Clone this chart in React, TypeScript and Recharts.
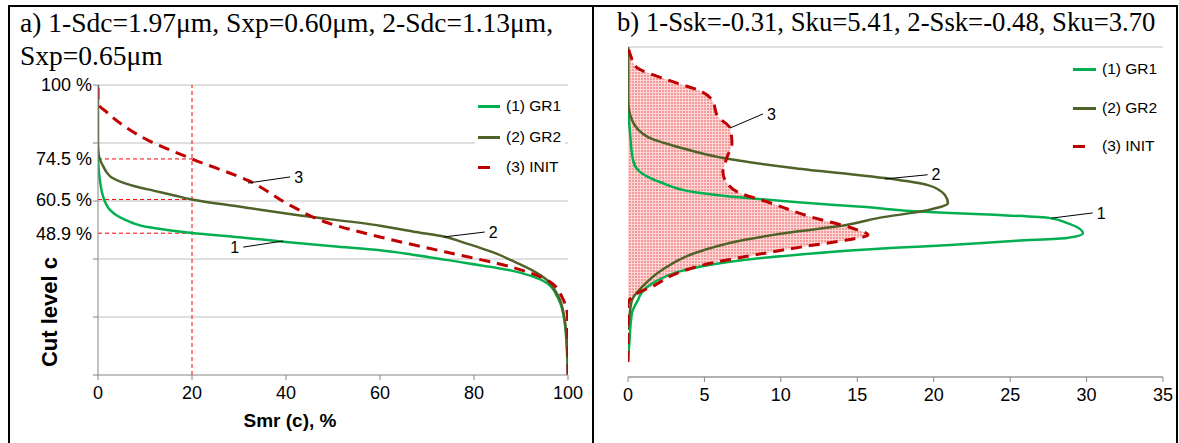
import React from 'react';
import {
  ComposedChart,
  Line,
  Area,
  XAxis,
  YAxis,
  CartesianGrid,
  ReferenceLine,
  ReferenceDot,
  Legend,
} from 'recharts';

// ---------- colours ----------
const C_GR1 = '#00b050';
const C_GR2 = '#4f6228';
const C_INIT = '#c00000';
const C_HELP = '#ff0000';
const C_GRID = '#c0c0c0';
const C_AXIS = '#868686';

// ---------- panel a) Abbott curves ----------
const smrTicks = [0, 20, 40, 60, 80, 100];
const cutGrid = [0, 20, 40, 60, 80, 100];
const cutLabelVals = [100, 74.5, 60.5, 48.9];
const cutLabels = ['100 %', '74.5 %', '60.5 %', '48.9 %'];
const leftYTicks = [0, 20, 40, 48.9, 60, 60.5, 74.5, 80, 100];
const helperSmr = 20;

const gr1Cut = [0, 10, 18, 25, 27, 31.7, 36, 39.7, 41.5, 43, 44.4, 45.9, 47.5, 49, 50, 51, 52.4, 53.5, 55, 57, 59, 62, 66, 70, 75];
const gr1Smr = [100, 99.7, 99.3, 98.3, 97.7, 95.5, 88, 74, 67, 60, 50, 40, 30, 20, 14.7, 10.5, 7.4, 5.8, 4, 2.5, 1.7, 1.0, 0.5, 0.2, 0];

const gr2Cut = [0, 10, 20, 25.9, 29, 32.8, 36, 39.5, 42, 44, 45.8, 47.6, 49.5, 51.5, 55, 57.6, 60.5, 62, 63.5, 65, 66.5, 68, 70, 72, 74, 76, 80, 100];
const gr2Smr = [100, 99.8, 99.2, 98.3, 97.3, 95.5, 92.5, 88, 84.5, 81, 77.5, 74, 67, 60, 43, 32, 20, 16, 12, 8, 5, 3, 1.8, 1.1, 0.5, 0.15, 0, 0];

const initCut = [0, 10, 20, 27, 32.8, 37.2, 42.4, 47.6, 52.4, 58.6, 67, 74.5, 81, 90.3, 93.8, 100];
const initSmr = [100, 100, 99.9, 98.7, 95.5, 88, 74, 60, 49, 40.8, 32, 20, 10.6, 2.1, 0, 0];

const leftNotes = [
  { label: '1', x1: 30.9, y1: 44.1, x2: 39.4, y2: 46.2, side: 'left' },
  { label: '3', x1: 31.9, y1: 66.2, x2: 40.9, y2: 68.3, side: 'right' },
  { label: '2', x1: 73.6, y1: 47.6, x2: 82.3, y2: 49.3, side: 'right' },
];

// ---------- panel b) height distributions ----------
const freqTicks = [0, 5, 10, 15, 20, 25, 30, 35];
const levelTicks = [0, 1, 2, 3, 4, 5, 6, 7];

const gr1H = [0.36, 0.64, 1.36, 1.63, 1.8, 2.02, 2.23, 2.44, 2.59, 2.74, 2.8, 2.89, 2.95, 3.05, 3.27, 3.37, 3.44, 3.5, 3.61, 3.71, 3.8, 3.92, 4.12, 4.39, 4.6, 5.18, 5.88, 7.0];
const gr1F = [0, 0.07, 0.26, 0.65, 0.92, 1.77, 3.27, 6.54, 10.92, 17.46, 21.06, 25.4, 28.7, 29.76, 28.7, 27.6, 24.0, 19.62, 15.3, 10.92, 7.65, 4.38, 2.22, 0.65, 0.33, 0.13, 0, 0];

const gr2H = [1.0, 1.21, 1.63, 1.91, 2.27, 2.63, 2.91, 3.08, 3.22, 3.37, 3.54, 3.69, 3.86, 4.07, 4.22, 4.43, 4.65, 4.88, 5.09, 5.45, 5.88, 7.0];
const gr2F = [0, 0.07, 0.26, 0.92, 2.22, 4.38, 7.65, 10.92, 14.19, 16.35, 19.62, 20.93, 20.73, 19.62, 16.81, 10.92, 6.15, 3.27, 1.31, 0.26, 0, 0];

const initH = [0.32, 1.53, 1.7, 1.95, 2.21, 2.42, 2.59, 2.76, 2.91, 3.01, 3.16, 3.39, 3.71, 3.92, 4.12, 4.35, 4.65, 4.96, 5.28, 5.52, 5.88, 6.05, 6.3, 6.58, 6.79, 7.0];
const initF = [0, 0, 0.26, 1.77, 3.27, 5.49, 8.31, 11.38, 14.39, 15.7, 14.65, 12.03, 9.16, 7.19, 6.47, 6.21, 6.47, 6.8, 6.67, 5.89, 5.49, 4.84, 2.6, 0.52, 0.2, 0];

const rightNotes = [
  { label: '3', x1: 6.67, y1: 5.28, x2: 8.83, y2: 5.58, side: 'right' },
  { label: '2', x1: 16.8, y1: 4.2, x2: 19.6, y2: 4.29, side: 'right' },
  { label: '1', x1: 27.7, y1: 3.37, x2: 30.4, y2: 3.48, side: 'right' },
];

const seriesNames = ['(1) GR1', '(2) GR2', '(3) INIT'];
const seriesColors = [C_GR1, C_GR2, C_INIT];

const pts = (hs: number[], vs: number[]) => hs.map((h, i) => ({ h, v: vs[i] }));

const gr1Abbott = pts(gr1Cut, gr1Smr);
const gr2Abbott = pts(gr2Cut, gr2Smr);
const initAbbott = pts(initCut, initSmr);
const gr1Dist = pts(gr1H, gr1F);
const gr2Dist = pts(gr2H, gr2F);
const initDist = pts(initH, initF);

const SANS = '"Liberation Sans", Arial, sans-serif';
const SERIF = '"Liberation Serif", "Times New Roman", serif';

const LeftTick = (props: any) => {
  const { x, y, payload } = props;
  const v = payload.value;
  const ax = x + 6;
  const idx = cutLabelVals.indexOf(v);
  return (
    <g>
      {cutGrid.includes(v) && <line x1={ax - 5} x2={ax} y1={y} y2={y} stroke={C_AXIS} />}
      {idx >= 0 && (
        <text x={ax - 6} y={y} dy="0.355em" textAnchor="end" fontSize={18} fill="#000" fontFamily={SANS}>
          {cutLabels[idx]}
        </text>
      )}
    </g>
  );
};

const makeLegend = (rowOffsets: number[], lineX: number, lineW: number, dashW: number, textX: number, w: number, h: number) =>
  () => (
    <div style={{ position: 'relative', width: w, height: h, background: '#fff', fontFamily: SANS, fontSize: 15.5, color: '#000' }}>
      {seriesNames.map((n, i) => (
        <div key={n}>
          <div
            style={{
              position: 'absolute',
              left: lineX,
              top: rowOffsets[i] - 1.5,
              width: i === 2 ? dashW : lineW,
              height: 3,
              background: seriesColors[i],
            }}
          />
          <div style={{ position: 'absolute', left: textX, top: rowOffsets[i] - 9, lineHeight: '18px', whiteSpace: 'nowrap' }}>{n}</div>
        </div>
      ))}
    </div>
  );

const renderNotes = (notes: any[], prefix: string) =>
  notes.flatMap((n) => [
    <ReferenceLine
      key={prefix + 'l' + n.label}
      segment={[{ x: n.x1, y: n.y1 }, { x: n.x2, y: n.y2 }]}
      stroke="#000"
      strokeWidth={1}
    />,
    <ReferenceDot
      key={prefix + 'd' + n.label}
      x={n.side === 'left' ? n.x1 : n.x2}
      y={n.side === 'left' ? n.y1 : n.y2}
      r={0}
      fill="none"
      stroke="none"
      label={{ value: n.label, position: n.side, offset: 4, fontSize: 16, fill: '#000', fontFamily: SANS }}
    />,
  ]);

export default function App() {
  return (
    <div style={{ position: 'absolute', left: 0, top: 0, width: 1179, height: 443, background: '#fff', overflow: 'hidden', fontFamily: SANS }}>
      {/* frame */}
      <div style={{ position: 'absolute', left: 8, top: 5, width: 1170, height: 2, background: '#000' }} />
      <div style={{ position: 'absolute', left: 8, top: 5, width: 2, height: 438, background: '#000' }} />
      <div style={{ position: 'absolute', left: 592, top: 5, width: 2, height: 438, background: '#000' }} />
      <div style={{ position: 'absolute', left: 1176, top: 5, width: 2, height: 438, background: '#000' }} />

      {/* titles */}
      <div style={{ position: 'absolute', left: 20, top: 6, fontFamily: SERIF, fontSize: 27.5, lineHeight: '33px', color: '#000', whiteSpace: 'nowrap' }}>
        a) 1-Sdc=1.97μm, Sxp=0.60μm, 2-Sdc=1.13μm,
        <br />
        Sxp=0.65μm
      </div>
      <div style={{ position: 'absolute', left: 617, top: 6, fontFamily: SERIF, fontSize: 26.7, lineHeight: '33px', color: '#000', whiteSpace: 'nowrap' }}>
        b) 1-Ssk=-0.31, Sku=5.41, 2-Ssk=-0.48, Sku=3.70
      </div>

      {/* left chart */}
      <div style={{ position: 'absolute', left: 0, top: 0 }}>
        <ComposedChart layout="vertical" width={592} height={443} margin={{ top: 85, right: 24, bottom: 38, left: 38 }}>
          <XAxis
            type="number"
            domain={[0, 100]}
            ticks={smrTicks}
            interval={0}
            allowDataOverflow
            height={30}
            tickSize={5}
            tickMargin={6}
            stroke={C_AXIS}
            tick={{ fill: '#000', fontSize: 18 }}
          />
          <YAxis
            type="number"
            dataKey="h"
            domain={[0, 100]}
            ticks={leftYTicks}
            interval={0}
            reversed
            allowDataOverflow
            width={60}
            tickLine={false}
            tickSize={0}
            tickMargin={6}
            stroke={C_AXIS}
            tick={(p: any) => <LeftTick {...p} />}
          />
          {cutGrid.slice(1).map((v) => (
            <ReferenceLine key={'g' + v} y={v} stroke={C_GRID} strokeWidth={1} />
          ))}
          <ReferenceLine x={helperSmr} stroke={C_HELP} strokeDasharray="4 3" strokeWidth={1} />
          {cutLabelVals.slice(1).map((v) => (
            <ReferenceLine
              key={'h' + v}
              segment={[{ x: 0, y: v }, { x: helperSmr, y: v }]}
              stroke={C_HELP}
              strokeDasharray="4 3"
              strokeWidth={1}
            />
          ))}
          <Line data={gr1Abbott} dataKey="v" type="monotone" stroke={C_GR1} strokeWidth={2.5} dot={false} isAnimationActive={false} />
          <Line data={gr2Abbott} dataKey="v" type="monotone" stroke={C_GR2} strokeWidth={2.5} dot={false} isAnimationActive={false} />
          <Line data={initAbbott} dataKey="v" type="monotone" stroke={C_INIT} strokeWidth={3} strokeDasharray="11 7" dot={false} isAnimationActive={false} />
          {renderNotes(leftNotes, 'L')}
          <Legend
            layout="vertical"
            align="center"
            verticalAlign="middle"
            wrapperStyle={{ left: 475, top: 92, width: 90, height: 90 }}
            content={makeLegend([14, 45, 75], 3, 22, 12, 31, 90, 90)}
          />
        </ComposedChart>
      </div>

      {/* right chart */}
      <div style={{ position: 'absolute', left: 596, top: 0 }}>
        <ComposedChart layout="vertical" width={583} height={443} margin={{ top: 47, right: 16, bottom: 36, left: 32 }}>
          <defs>
            <pattern id="initHatch" width="3" height="3" patternUnits="userSpaceOnUse">
              <rect width="3" height="3" fill="#ffd6d6" />
              <rect width="2" height="2" fill="#f59a9a" />
            </pattern>
          </defs>
          <CartesianGrid vertical={false} stroke={C_GRID} />
          <XAxis
            type="number"
            domain={[0, 35]}
            ticks={freqTicks}
            interval={0}
            allowDataOverflow
            height={30}
            tickSize={5}
            tickMargin={6}
            stroke={C_AXIS}
            tick={{ fill: '#000', fontSize: 18 }}
          />
          <YAxis
            type="number"
            dataKey="h"
            domain={[0, 7]}
            ticks={levelTicks}
            interval={0}
            reversed
            allowDataOverflow
            width={0}
            tick={false}
            tickLine={false}
            stroke={C_AXIS}
          />
          <Area data={initDist} dataKey="v" type="monotone" fill="url(#initHatch)" fillOpacity={1} stroke="none" isAnimationActive={false} />
          <Line data={gr1Dist} dataKey="v" type="monotone" stroke={C_GR1} strokeWidth={2.5} dot={false} isAnimationActive={false} />
          <Line data={gr2Dist} dataKey="v" type="monotone" stroke={C_GR2} strokeWidth={2.5} dot={false} isAnimationActive={false} />
          <Line data={initDist} dataKey="v" type="monotone" stroke={C_INIT} strokeWidth={3} strokeDasharray="11 7" dot={false} isAnimationActive={false} />
          {renderNotes(rightNotes, 'R')}
          <Legend
            layout="vertical"
            align="center"
            verticalAlign="middle"
            wrapperStyle={{ left: 473, top: 53, width: 93, height: 107 }}
            content={makeLegend([16, 55, 93], 4, 23, 12, 33, 93, 107)}
          />
        </ComposedChart>
      </div>

      {/* axis titles */}
      <div style={{ position: 'absolute', left: 290, top: 421, transform: 'translate(-50%, -50%)', fontSize: 19, fontWeight: 'bold', whiteSpace: 'nowrap' }}>
        Smr (c), %
      </div>
      <div style={{ position: 'absolute', left: 50, top: 312, transform: 'translate(-50%, -50%) rotate(-90deg)', fontSize: 22, fontWeight: 'bold', whiteSpace: 'nowrap' }}>
        Cut level c
      </div>
    </div>
  );
}
